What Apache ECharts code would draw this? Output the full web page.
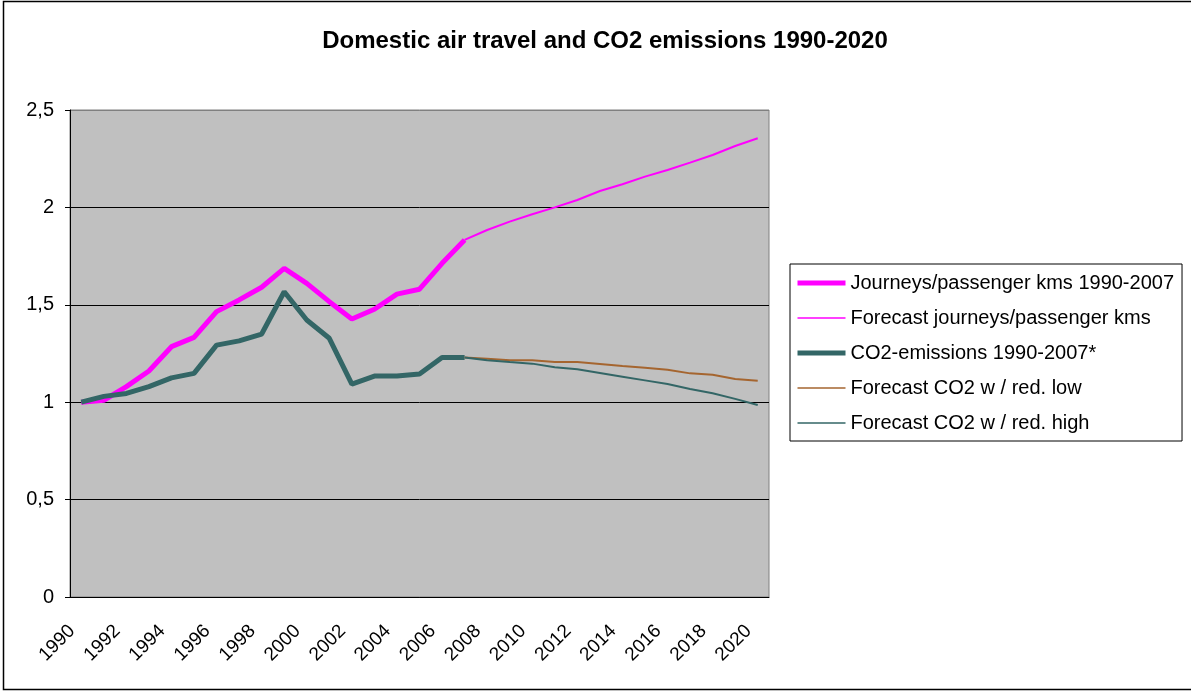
<!DOCTYPE html>
<html>
<head>
<meta charset="utf-8">
<title>Domestic air travel and CO2 emissions 1990-2020</title>
<script src="https://cdn.jsdelivr.net/npm/echarts@6/dist/echarts.min.js"></script>
<style>
  html, body { margin: 0; padding: 0; background: #fff; }
  #chart { width: 1191px; height: 691px; }
</style>
</head>
<body>
<div id="chart"></div>
<script>
// categories
var years = ['1990', '1991', '1992', '1993', '1994', '1995', '1996', '1997', '1998', '1999',
             '2000', '2001', '2002', '2003', '2004', '2005', '2006', '2007', '2008', '2009',
             '2010', '2011', '2012', '2013', '2014', '2015', '2016', '2017', '2018', '2019', '2020'];

// 1990-2007, index 1990 = 1
var journeys = [1.0, 1.01, 1.08, 1.16, 1.285, 1.333, 1.465, 1.525, 1.59, 1.687,
                1.61, 1.516, 1.427, 1.477, 1.555, 1.58, 1.713, 1.833];
var co2 = [1.0, 1.03, 1.045, 1.08, 1.125, 1.148, 1.293, 1.315, 1.35, 1.567,
           1.422, 1.328, 1.093, 1.134, 1.134, 1.145, 1.23, 1.23];

// forecasts 2007-2020
var forecastJourneys = [1.833, 1.884, 1.927, 1.965, 2.0, 2.038, 2.084, 2.119, 2.158, 2.192, 2.23, 2.269, 2.315, 2.355];
var forecastLow = [1.23, 1.223, 1.215, 1.215, 1.206, 1.206, 1.196, 1.186, 1.177, 1.167, 1.148, 1.141, 1.119, 1.11];
var forecastHigh = [1.23, 1.215, 1.206, 1.198, 1.179, 1.169, 1.15, 1.131, 1.112, 1.093, 1.068, 1.046, 1.017, 0.986];

var yTicks = [0, 0.5, 1, 1.5, 2, 2.5];

// forecasts start at 2007
var forecastStart = years.indexOf('2007');

function padFront(arr) {
  var out = [];
  for (var i = 0; i < forecastStart; i++) out.push(null);
  return out.concat(arr);
}

var font = 'Arial, "Liberation Sans", sans-serif';

var chart = echarts.init(document.getElementById('chart'));
var option = {
  animation: false,
  backgroundColor: '#fff',
  title: {
    text: 'Domestic air travel and CO2 emissions 1990-2020',
    left: 600,
    textAlign: 'center',
    top: 24,
    textStyle: { fontFamily: font, fontSize: 24, fontWeight: 'bold', color: '#000' }
  },
  graphic: [{
    type: 'rect',
    shape: { x: 3.5, y: 1.5, width: 1200, height: 688 },
    style: { fill: 'none', stroke: '#000', lineWidth: 1.5 },
    silent: true
  }],
  legend: {
    orient: 'vertical',
    left: 790,
    top: 264,
    padding: [9, 8, 8, 5],
    itemWidth: 48,
    itemHeight: 14,
    itemGap: 15,
    backgroundColor: '#fff',
    borderColor: '#000',
    borderWidth: 1,
    // hide the symbol in the middle of the legend line
    itemStyle: { color: 'transparent', borderWidth: 0, opacity: 0 },
    textStyle: { fontFamily: font, fontSize: 20, color: '#000', lineHeight: 20 },
    data: [
      { name: 'Journeys/passenger kms 1990-2007', lineStyle: { width: 5 } },
      { name: 'Forecast journeys/passenger kms', lineStyle: { width: 1.5 } },
      { name: 'CO2-emissions 1990-2007*', lineStyle: { width: 5 } },
      { name: 'Forecast CO2 w / red. low', lineStyle: { width: 1.5 } },
      { name: 'Forecast CO2 w / red. high', lineStyle: { width: 1.5 } }
    ]
  },
  grid: {
    left: 70, right: 422, top: 110, bottom: 94,
    show: true,
    backgroundColor: '#c0c0c0',
    borderColor: '#808080',
    borderWidth: 1
  },
  xAxis: {
    type: 'category',
    data: years,
    boundaryGap: true,
    axisLine: { lineStyle: { color: '#000', width: 1 } },
    axisTick: { interval: 0, length: 5, lineStyle: { color: '#000' } },
    axisLabel: {
      interval: 1,
      rotate: 45,
      margin: 22,
      padding: [0, 13, 0, 0],
      fontFamily: font, fontSize: 19, color: '#000'
    },
    splitLine: { show: false }
  },
  yAxis: {
    type: 'value',
    min: yTicks[0],
    max: yTicks[yTicks.length - 1],
    interval: 0.5,
    axisLine: { show: true, lineStyle: { color: '#000', width: 1 } },
    axisTick: { show: true, length: 5, lineStyle: { color: '#000' } },
    axisLabel: {
      margin: 16,
      fontFamily: font, fontSize: 20, color: '#000',
      formatter: function (v) { return String(v).replace('.', ','); }
    },
    splitLine: { lineStyle: { color: ['#000', '#000', '#000', '#000', '#000', '#808080'], width: 1 } }
  },
  series: [
    {
      name: 'Journeys/passenger kms 1990-2007',
      type: 'line', symbol: 'none', data: journeys,
      lineStyle: { color: '#ff00ff', width: 5 }, itemStyle: { color: '#ff00ff' }
    },
    {
      name: 'Forecast journeys/passenger kms',
      type: 'line', symbol: 'none', data: padFront(forecastJourneys.slice()),
      lineStyle: { color: '#ff00ff', width: 2 }, itemStyle: { color: '#ff00ff' }
    },
    {
      name: 'CO2-emissions 1990-2007*',
      type: 'line', symbol: 'none', data: co2,
      lineStyle: { color: '#336666', width: 5 }, itemStyle: { color: '#336666' }
    },
    {
      name: 'Forecast CO2 w / red. low',
      type: 'line', symbol: 'none', data: padFront(forecastLow.slice()),
      lineStyle: { color: '#a5652f', width: 2 }, itemStyle: { color: '#a5652f' }
    },
    {
      name: 'Forecast CO2 w / red. high',
      type: 'line', symbol: 'none', data: padFront(forecastHigh.slice()),
      lineStyle: { color: '#336666', width: 2 }, itemStyle: { color: '#336666' }
    }
  ]
};
chart.setOption(option);
</script>
</body>
</html>
